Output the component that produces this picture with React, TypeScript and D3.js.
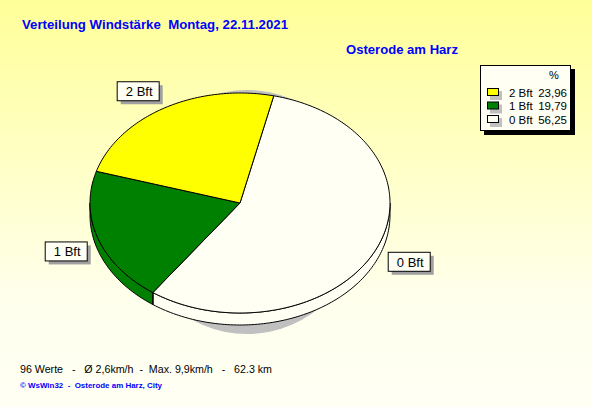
import React from "react";
import * as d3 from "d3";

const categories = ["0 Bft", "1 Bft", "2 Bft"];
const values = [56.25, 19.79, 23.96];
const colors = ["#FFFFF4", "#008000", "#FFFF00"];
const legendOrder = ["2 Bft", "1 Bft", "0 Bft"];
const legendValues = ["23,96", "19,79", "56,25"];
const title = "Verteilung Windstärke  Montag, 22.11.2021";
const station = "Osterode am Harz";
const footer = "96 Werte   -   Ø 2,6km/h  -  Max. 9,9km/h   -   62.3 km";
const credit = "© WsWin32  -  Osterode am Harz, City";

const W = 592, H = 407;
const cx = 240, cy = 203, rx = 150, ry = 110, depth = 12;
const startDeg = 13;

const pt = (a: number, dy = 0, k = 1): [number, number] => [cx + k * rx * Math.sin(a), cy - k * ry * Math.cos(a) + dy];

function arcPts(a0: number, a1: number, dy = 0): [number, number][] {
  const n = Math.max(2, Math.ceil(Math.abs(a1 - a0) / 0.02));
  return d3.range(n + 1).map((i) => pt(a0 + ((a1 - a0) * i) / n, dy));
}

export default function App() {
  const pie = d3
    .pie<number>()
    .sort(null)
    .value((d) => d)
    .startAngle((startDeg * Math.PI) / 180)
    .endAngle((startDeg * Math.PI) / 180 + 2 * Math.PI);
  const arcs = pie(values);
  const line = d3.line();

  const sides: { d: string; fill: string }[] = [];
  const edges: [number, number][] = [];
  arcs.forEach((a, i) => {
    for (const off of [0, 2 * Math.PI, -2 * Math.PI]) {
      const lo = Math.max(a.startAngle + off, Math.PI / 2);
      const hi = Math.min(a.endAngle + off, (3 * Math.PI) / 2);
      if (hi > lo) {
        const top = arcPts(lo, hi);
        const bot = arcPts(hi, lo, depth);
        sides.push({ d: line([...top, ...bot])! + "Z", fill: colors[i] });
      }
    }
    const s = a.startAngle % (2 * Math.PI);
    if (s > Math.PI / 2 && s < (3 * Math.PI) / 2) edges.push(pt(s));
  });

  const slices = arcs.map((a, i) => {
    const p = arcPts(a.startAngle, a.endAngle);
    return { d: line([[cx, cy], ...p])! + "Z", fill: colors[i] };
  });

  const bw = 42, bh = 19;
  const labels = arcs.map((a, i) => {
    const m = (a.startAngle + a.endAngle) / 2;
    const [ax, ay] = pt(m, 0, 1.08);
    const x = Math.sin(m) < 0 ? ax - bw : ax;
    const y = Math.cos(m) > 0 ? ay - bh : ay;
    return { x, y, text: categories[i] };
  });

  const font = "Liberation Sans, Arial, sans-serif";

  return (
    <svg width={W} height={H} style={{ position: "absolute", left: 0, top: 0 }}>
      <defs>
        <linearGradient id="bg" x1="0" y1="0" x2="0" y2="1">
          <stop offset="0" stopColor="#FFFF99" />
          <stop offset="0.75" stopColor="#FFFFEE" />
          <stop offset="1" stopColor="#FFFFF4" />
        </linearGradient>
      </defs>
      <rect width={W} height={H} fill="url(#bg)" />
      <text x={22} y={29} fill="#0000FF" fontFamily={font} fontWeight="bold" fontSize={12.5} xmlSpace="preserve" style={{ whiteSpace: "pre" }} textLength={266} lengthAdjust="spacingAndGlyphs">{title}</text>
      <text x={346} y={54} fill="#0000FF" fontFamily={font} fontWeight="bold" fontSize={12.5} textLength={112} lengthAdjust="spacingAndGlyphs">{station}</text>

      <ellipse cx={247} cy={212} rx={117} ry={122} fill="#C0C0C0" />
      {sides.map((s, i) => (
        <path key={"s" + i} d={s.d} fill={s.fill} stroke="#000" strokeWidth={1} />
      ))}
      {edges.map((e, i) => (
        <line key={"e" + i} x1={e[0]} y1={e[1]} x2={e[0]} y2={e[1] + depth} stroke="#000" />
      ))}
      {slices.map((s, i) => (
        <path key={"p" + i} d={s.d} fill={s.fill} stroke="#000" strokeWidth={1} strokeLinejoin="round" />
      ))}

      {labels.map((l, i) => (
        <g key={"l" + i}>
          <rect x={l.x + 4} y={l.y + 4} width={bw} height={bh} fill="#A0A0A0" />
          <rect x={l.x + 0.5} y={l.y + 0.5} width={bw} height={bh} fill="#FFFFF4" stroke="#000" />
          <text x={l.x + bw / 2 + 1.5} y={l.y + 15} textAnchor="middle" fontFamily={font} fontSize={13}>{l.text}</text>
        </g>
      ))}

      <rect x={484} y={69} width={91} height={66} fill="#000" />
      <rect x={480.5} y={65.5} width={90} height={65} fill="#FFFFF4" stroke="#000" />
      <text x={549} y={79} fontFamily={font} fontSize={11}>%</text>
      {legendOrder.map((c, i) => {
        const y = 92 + i * 13.5;
        const idx = categories.indexOf(c);
        return (
          <g key={"lg" + i}>
            <rect x={490} y={y - 1} width={12} height={9} fill="#C0C0C0" />
            <rect x={487.5} y={y - 3.5} width={11} height={7} fill={colors[idx]} stroke="#000" />
            <text x={509} y={y + 4.5} fontFamily={font} fontSize={11.5}>{c}</text>
            <text x={567} y={y + 4.5} textAnchor="end" fontFamily={font} fontSize={11.5}>{legendValues[i]}</text>
          </g>
        );
      })}

      <text x={20} y={373} fontFamily={font} fontSize={11.5} xmlSpace="preserve" style={{ whiteSpace: "pre" }} textLength={252} lengthAdjust="spacingAndGlyphs">{footer}</text>
      <text x={20} y={388} fill="#0000FF" fontFamily={font} fontSize={8} fontWeight="bold" xmlSpace="preserve" style={{ whiteSpace: "pre" }} textLength={142} lengthAdjust="spacingAndGlyphs">{credit}</text>
    </svg>
  );
}
